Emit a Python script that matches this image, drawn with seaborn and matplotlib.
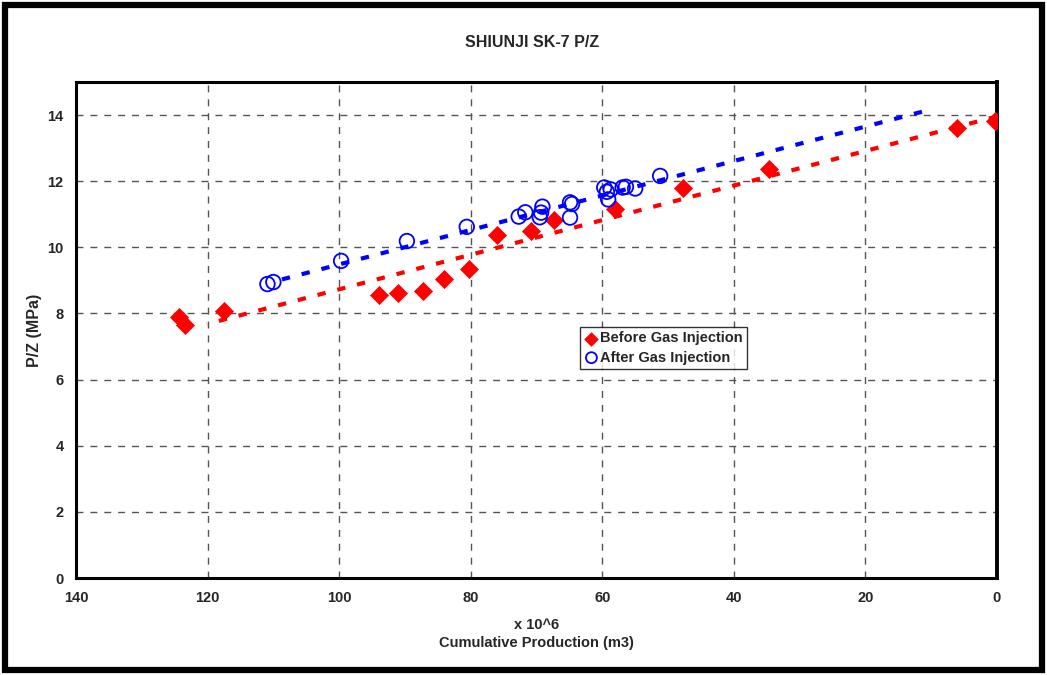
import numpy as np
import pandas as pd
import matplotlib
matplotlib.use("Agg")
import matplotlib.pyplot as plt
from matplotlib.patches import Rectangle
import seaborn as sns

# data (x in 10^6 m3, P/Z in MPa)
before_x = [124.3, 123.5, 117.5, 93.9, 91.0, 87.2, 84.1, 80.2, 76.0, 70.9,
            67.3, 58.1, 47.7, 34.7, 6.1, 0.3]
before_y = [7.90, 7.65, 8.08, 8.57, 8.61, 8.69, 9.03, 9.35, 10.37, 10.50,
            10.83, 11.15, 11.80, 12.37, 13.61, 13.82]

after_x = [110.9, 110.0, 99.7, 89.7, 80.6, 72.7, 71.7, 69.5, 69.3, 69.1,
           64.9, 64.6, 64.9, 59.7, 59.3, 58.7, 59.1, 56.9, 56.4, 55.0, 51.2]
after_y = [8.89, 8.95, 9.59, 10.19, 10.62, 10.93, 11.06, 10.91, 11.05, 11.23,
           11.36, 11.31, 10.90, 11.81, 11.68, 11.75, 11.45, 11.81, 11.83, 11.78, 12.16]

# trend lines (end points)
trend_before_x = [120.1, 0.0]
trend_before_y = [7.68, 13.96]
trend_after_x = [108.7, 11.4]
trend_after_y = [9.03, 14.10]

x_ticks = [140, 120, 100, 80, 60, 40, 20, 0]
y_ticks = [0, 2, 4, 6, 8, 10, 12, 14]

sns.set_style("white")
plt.rcParams['font.family'] = ['Liberation Sans', 'DejaVu Sans']
plt.rcParams['font.weight'] = 'bold'

fig = plt.figure(figsize=(10.47, 6.75), dpi=100)
ax = fig.add_axes([0.0726, 0.1437, 0.8796, 0.7348])

df_b = pd.DataFrame({"x": trend_before_x, "y": trend_before_y})
df_a = pd.DataFrame({"x": trend_after_x, "y": trend_after_y})
sns.lineplot(data=df_b, x="x", y="y", ax=ax, color="#ff0000", lw=3,
             linestyle=(0, (2.0, 2.9)), zorder=2)
sns.lineplot(data=df_a, x="x", y="y", ax=ax, color="#0000ff", lw=3,
             linestyle=(0, (2.0, 2.9)), zorder=2)

sns.scatterplot(x=before_x, y=before_y, ax=ax, marker="D", s=85, color="#ff0000",
                edgecolor="#ff0000", linewidth=0.5, zorder=3, label="Before Gas Injection")
sns.scatterplot(x=after_x, y=after_y, ax=ax, marker="o", s=110, facecolor="none",
                edgecolor="#0000ff", linewidth=1.3, zorder=3, label="After Gas Injection")

ax.set_xlim(140, 0)
ax.set_ylim(0, 15)
ax.set_xticks(x_ticks)
ax.set_yticks(y_ticks)
ax.grid(True, color="#555555", linestyle=(0, (5, 5)), lw=1)
ax.tick_params(length=0, labelsize=10.5, pad=9)
for lab in ax.get_xticklabels() + ax.get_yticklabels():
    lab.set_fontweight("bold")
for side, sp in ax.spines.items():
    sp.set_color("black")
    sp.set_linewidth(2.2)
    sp.set_visible(True)
ax.spines["right"].set_linewidth(2.8)

ax.set_xlabel("x 10^6\nCumulative Production (m3)", fontsize=10.5, fontweight="bold",
              labelpad=10, linespacing=1.3)
ax.set_ylabel("P/Z (MPa)", fontsize=11.5, fontweight="bold", labelpad=4)
fig.text(0.508, 0.937, "SHIUNJI SK-7 P/Z", ha="center", va="center",
         fontsize=11.5, fontweight="bold")

leg = ax.legend(loc="upper left", bbox_to_anchor=(0.547, 0.506), frameon=True,
                fancybox=False, fontsize=10.5, handletextpad=0.1, handlelength=1.0,
                borderpad=0.3, labelspacing=0.35, borderaxespad=0, markerscale=0.75)
leg.get_frame().set_edgecolor("black")
leg.get_frame().set_linewidth(1.0)
for t in leg.get_texts():
    t.set_fontweight("bold")

# outer frame
fig.patches.append(Rectangle((0.005, 0.007), 0.99, 0.986, transform=fig.transFigure,
                             fill=False, edgecolor="black", lw=4.5))

fig.savefig("out.png", dpi=100)
